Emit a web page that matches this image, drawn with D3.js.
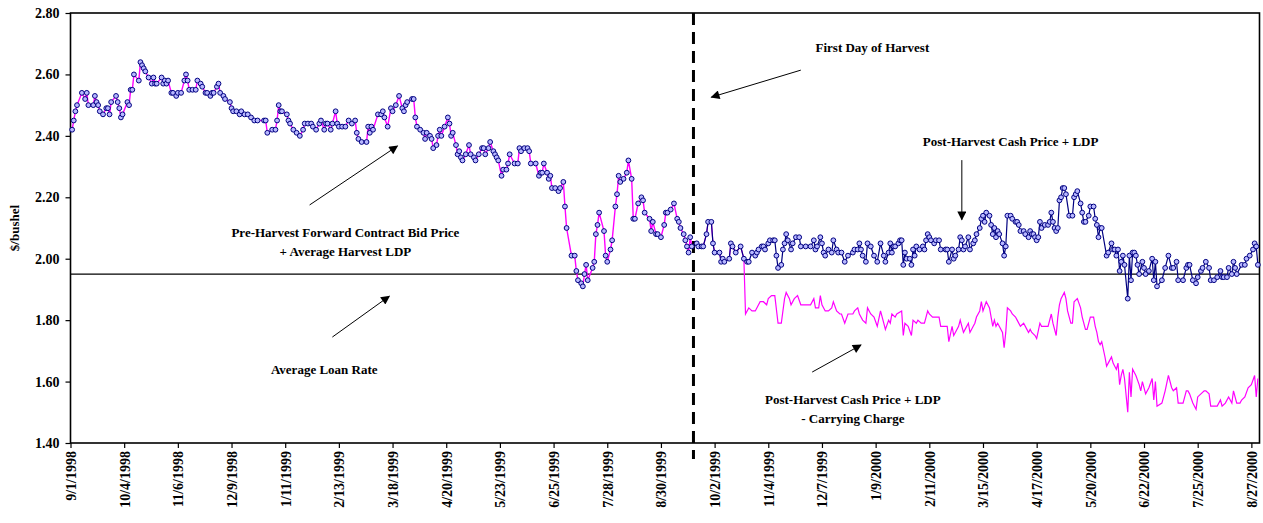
<!DOCTYPE html>
<html><head><meta charset="utf-8">
<script src="https://cdn.jsdelivr.net/npm/d3@7"></script>
<style>
html,body{margin:0;padding:0;background:#fff;}
svg{display:block;font-family:"Liberation Serif","Times New Roman",serif;font-weight:bold;}
</style></head>
<body><svg id="chart" width="1263" height="523"></svg>
<script>
// ---- DATA: [days since 9/1/1998, $/bushel] ----
const startDate = "1998-09-01";
const endDay = 731;
const harvestDay = 383;      // first day of harvest
const avgLoanRate = 1.95;

const tickLabels = ["9/1/1998","10/4/1998","11/6/1998","12/9/1998","1/11/1999","2/13/1999","3/18/1999","4/20/1999","5/23/1999","6/25/1999","7/28/1999","8/30/1999","10/2/1999","11/4/1999","12/7/1999","1/9/2000","2/11/2000","3/15/2000","4/17/2000","5/20/2000","6/22/2000","7/25/2000","8/27/2000"];
const yTicks = [1.40,1.60,1.80,2.00,2.20,2.40,2.60,2.80];

const preHarvest = [[1,2.42],[2,2.45],[3,2.48],[4,2.50],[7,2.54],[9,2.52],[10,2.54],[11,2.50],[14,2.50],[15,2.53],[16,2.51],[17,2.50],[18,2.48],[20,2.47],[22,2.49],[23,2.49],[24,2.47],[25,2.51],[28,2.53],[29,2.51],[30,2.49],[31,2.46],[32,2.47],[35,2.51],[36,2.50],[37,2.55],[38,2.55],[39,2.60],[42,2.58],[43,2.64],[44,2.63],[45,2.62],[46,2.61],[48,2.59],[50,2.57],[51,2.59],[52,2.57],[53,2.57],[56,2.59],[57,2.57],[58,2.58],[59,2.57],[60,2.58],[62,2.54],[63,2.54],[65,2.53],[66,2.54],[68,2.54],[70,2.58],
[71,2.60],[72,2.58],[73,2.55],[75,2.55],[77,2.55],[78,2.58],[80,2.57],[81,2.56],[83,2.54],[84,2.54],[86,2.53],[87,2.54],[88,2.54],[90,2.56],[91,2.57],[92,2.54],[94,2.53],[95,2.52],[98,2.51],[99,2.49],[100,2.48],[102,2.48],[104,2.47],[105,2.48],[107,2.47],[109,2.47],[111,2.46],[113,2.45],[115,2.45],[119,2.45],[120,2.45],[121,2.41],[124,2.42],[126,2.42],[127,2.45],[128,2.50],[129,2.48],[130,2.48],[133,2.47],[134,2.45],[135,2.44],[137,2.42],[139,2.41],[141,2.40],
[143,2.42],[144,2.44],[146,2.44],[148,2.44],[149,2.43],[151,2.42],[153,2.44],[154,2.45],[156,2.42],[157,2.44],[158,2.44],[160,2.42],[161,2.44],[163,2.48],[164,2.44],[165,2.43],[167,2.43],[169,2.43],[171,2.45],[173,2.44],[175,2.45],[176,2.41],[177,2.39],[179,2.38],[182,2.38],[183,2.43],[184,2.41],[185,2.43],[186,2.42],[189,2.47],[191,2.47],[192,2.48],[193,2.46],[195,2.43],[197,2.49],[198,2.48],[200,2.50],[202,2.53],[204,2.49],[205,2.48],[206,2.50],[207,2.51],[210,2.52],[211,2.52],[212,2.46],[213,2.43],[215,2.42],
[217,2.41],[218,2.39],[219,2.41],[221,2.40],[222,2.39],[223,2.36],[225,2.37],[226,2.40],[227,2.42],[228,2.40],[230,2.43],[232,2.46],[233,2.44],[234,2.40],[235,2.41],[237,2.37],[238,2.34],[239,2.35],[240,2.33],[241,2.32],[243,2.34],[245,2.37],[246,2.34],[248,2.33],[249,2.32],[251,2.34],[253,2.36],[254,2.36],[255,2.34],[257,2.36],[258,2.38],[260,2.35],[261,2.34],[262,2.33],[263,2.32],[265,2.27],[266,2.29],[268,2.29],[269,2.31],[270,2.34],[273,2.31],[275,2.31],[276,2.36],[277,2.35],[279,2.36],[281,2.36],[282,2.35],[283,2.31],
[286,2.31],[288,2.27],[289,2.28],[290,2.28],[291,2.31],[293,2.28],[294,2.26],[295,2.27],[296,2.23],[298,2.23],[300,2.22],[301,2.23],[303,2.25],[304,2.17],[305,2.10],[308,2.01],[310,2.01],[311,1.96],[312,1.93],[314,1.92],[315,1.91],[316,1.95],[317,1.98],[318,1.93],[321,1.97],[322,1.99],[323,2.08],[324,2.11],[325,2.15],[328,2.09],[329,2.01],[330,1.99],[332,2.03],[333,2.06],[335,2.17],[336,2.21],[337,2.27],[338,2.25],[340,2.26],[342,2.28],[343,2.32],[345,2.26],[346,2.13],[347,2.13],[349,2.18],[351,2.20],[352,2.19],[353,2.15],
[356,2.13],[357,2.09],[358,2.12],[360,2.08],[361,2.08],[363,2.07],[365,2.11],[366,2.15],[367,2.15],[369,2.16],[371,2.18],[373,2.13],[374,2.12],[375,2.10],[377,2.08],[378,2.06],[379,2.04],[380,2.02],[381,2.07],[382,2.04]];

const postHarvest = [[385,2.05],[386,2.04],[388,2.04],[389,2.04],[391,2.08],[392,2.12],[394,2.12],[395,2.05],[396,2.02],[399,2.02],[400,1.99],[401,2.00],[402,1.99],[405,2.00],[406,2.05],[407,2.04],[409,2.02],[412,2.04],[414,2.00],[416,1.99],
[417,1.99],[419,2.02],[421,2.01],[422,2.02],[423,2.03],[425,2.04],[426,2.04],[427,2.03],[429,2.05],[430,2.06],[432,2.06],[433,2.06],[434,2.01],[435,1.97],[437,1.98],[438,2.03],[439,2.05],[440,2.08],[441,2.06],[443,2.03],
[444,2.05],[446,2.07],[448,2.07],[449,2.04],[452,2.04],[455,2.04],[457,2.06],[458,2.03],[459,2.04],[461,2.07],[462,2.05],[463,2.02],[464,2.01],[466,2.03],[468,2.02],[469,2.06],[471,2.03],[472,2.02],[474,2.02],[476,1.99],
[478,2.01],[481,2.02],[482,2.03],[484,2.03],[485,2.05],[486,2.03],[487,2.01],[489,1.99],[490,2.05],[492,2.04],[494,2.01],[496,1.99],[498,2.05],[500,2.01],[501,1.99],[503,2.02],[504,2.05],[505,2.02],[506,2.04],[507,2.04],
[509,2.05],[510,2.06],[511,2.06],[512,1.98],[513,2.02],[514,2.00],[516,2.00],[517,1.98],[518,2.03],[519,2.01],[520,2.04],[522,2.03],[524,2.04],[525,2.03],[526,2.06],[527,2.08],[528,2.07],[529,2.06],[531,2.05],[532,2.06],
[534,2.06],[535,2.03],[538,2.03],[539,2.03],[540,1.99],[542,2.03],[543,2.00],[544,2.01],[546,2.03],[547,2.07],[548,2.06],[549,2.03],[550,2.04],[552,2.07],[553,2.03],[555,2.05],[556,2.06],[557,2.08],[559,2.10],[560,2.13],
[561,2.14],[562,2.12],[563,2.15],[565,2.14],[566,2.11],[567,2.08],[568,2.10],[569,2.07],[570,2.09],[571,2.08],[573,2.05],[574,2.01],[575,2.04],[576,2.14],[578,2.14],[579,2.13],[581,2.12],[582,2.12],[583,2.11],[584,2.09],
[586,2.09],[587,2.08],[589,2.07],[590,2.09],[591,2.08],[592,2.08],[593,2.07],[594,2.06],[595,2.07],[596,2.12],[597,2.10],[599,2.11],[601,2.11],[602,2.12],[603,2.15],[604,2.12],[605,2.10],[606,2.09],[607,2.10],[608,2.19],
[609,2.20],[610,2.23],[611,2.23],[612,2.21],[614,2.14],[616,2.14],[617,2.20],[618,2.21],[619,2.22],[621,2.18],[622,2.15],[623,2.12],[624,2.12],[626,2.14],[627,2.17],[629,2.17],[630,2.13],[631,2.11],[632,2.07],[633,2.10],
[634,2.10],[637,2.01],[638,2.02],[640,2.05],[641,2.03],[642,2.03],[643,2.01],[644,2.03],[645,1.96],[646,1.99],[647,2.01],[648,1.98],[650,1.87],[651,2.01],[652,1.93],[653,2.02],[654,2.02],[655,2.01],[656,1.98],[657,1.95],
[659,1.99],[660,1.97],[661,1.95],[663,1.96],[665,2.00],[666,1.93],[667,1.99],[668,1.91],[671,1.93],[673,1.97],[675,2.01],[677,1.97],[678,1.97],[680,1.99],[681,1.93],[684,1.93],[686,1.97],[687,1.98],[688,1.98],[690,1.93],
[692,1.92],[693,1.94],[695,1.96],[696,1.97],[698,1.99],[700,1.97],[701,1.93],[703,1.93],[705,1.94],[707,1.96],[708,1.94],[709,1.94],[711,1.94],[712,1.97],[714,1.95],[715,1.99],[716,1.97],[717,1.95],[720,1.98],[722,1.98],
[723,2.00],[725,2.01],[727,2.03],[728,2.05],[729,2.04],[730,1.98]];

const postHarvestCarry = [[385,2.05],[386,2.04],[388,2.04],[389,2.04],[391,2.08],[392,2.12],[394,2.12],[395,2.05],[396,2.02],[399,2.02],[400,1.99],[401,2.00],[402,1.99],[405,2.00],[406,2.05],[407,2.04],[409,2.02],[412,2.04],[414,2.00],
[415,1.82],[417,1.84],[419,1.83],[421,1.83],[423,1.85],[424,1.86],[426,1.86],[428,1.85],[429,1.87],[431,1.88],[433,1.88],[435,1.79],[437,1.79],[439,1.87],[440,1.89],[442,1.87],[443,1.85],[445,1.87],[447,1.88],[449,1.85],
[452,1.85],[455,1.85],[457,1.87],[458,1.84],[460,1.84],[461,1.88],[462,1.85],[464,1.83],[466,1.83],[468,1.84],[469,1.86],[471,1.83],[473,1.82],[474,1.82],[476,1.79],[478,1.82],[481,1.82],[482,1.83],[484,1.84],[485,1.82],
[487,1.80],[489,1.79],[490,1.84],[492,1.82],[494,1.81],[496,1.78],[498,1.83],[500,1.79],[501,1.77],[503,1.80],[504,1.79],[505,1.82],[507,1.81],[508,1.82],[511,1.83],[512,1.75],[513,1.79],[515,1.78],[517,1.75],[518,1.80],
[520,1.79],[521,1.80],[523,1.79],[525,1.79],[526,1.81],[527,1.83],[528,1.82],[530,1.81],[532,1.81],[534,1.81],[535,1.78],[538,1.78],[539,1.78],[540,1.73],[542,1.78],[543,1.75],[544,1.76],[546,1.78],[547,1.80],[548,1.78],
[549,1.76],[550,1.77],[552,1.79],[553,1.76],[555,1.78],[556,1.79],[557,1.81],[559,1.83],[560,1.86],[561,1.83],[563,1.86],[565,1.84],[566,1.81],[567,1.78],[568,1.80],[569,1.78],[570,1.79],[571,1.78],[573,1.76],[574,1.71],
[575,1.76],[576,1.84],[578,1.83],[579,1.82],[581,1.81],[582,1.80],[584,1.78],[586,1.79],[588,1.77],[589,1.76],[590,1.77],[591,1.76],[593,1.75],[594,1.74],[596,1.79],[597,1.78],[599,1.78],[601,1.78],[603,1.82],[604,1.79],
[606,1.75],[607,1.81],[608,1.85],[609,1.87],[611,1.89],[612,1.87],[613,1.83],[615,1.79],[616,1.79],[617,1.86],[619,1.87],[621,1.84],[622,1.81],[624,1.77],[625,1.77],[627,1.81],[629,1.81],[630,1.78],[631,1.76],[632,1.73],
[633,1.72],[634,1.73],[636,1.68],[637,1.65],[638,1.66],[640,1.68],[641,1.66],[642,1.65],[643,1.64],[644,1.66],[645,1.59],[646,1.62],[647,1.64],[648,1.61],[650,1.50],[651,1.63],[652,1.55],[653,1.64],[655,1.62],[657,1.59],
[658,1.57],[659,1.60],[661,1.56],[663,1.58],[665,1.61],[666,1.54],[667,1.60],[668,1.52],[671,1.53],[673,1.57],[675,1.62],[677,1.58],[678,1.57],[680,1.58],[681,1.53],[684,1.53],[686,1.57],[687,1.57],[688,1.56],[690,1.53],
[692,1.51],[693,1.55],[695,1.56],[697,1.57],[698,1.57],[700,1.56],[701,1.52],[703,1.52],[705,1.52],[707,1.54],[708,1.52],[710,1.53],[712,1.55],[714,1.53],[715,1.57],[717,1.53],[719,1.53],[720,1.54],[722,1.55],[724,1.58],
[726,1.59],[728,1.62],[729,1.55],[730,1.61]];

// annotation texts: lines, anchor [day, value]
const notes = [
  {lines:["First Day of Harvest"], at:[493,2.672]},
  {lines:["Post-Harvest Cash Price + LDP"], at:[578,2.367]},
  {lines:["Pre-Harvest Forward Contract Bid Price","+ Average Harvest LDP"], at:[169,2.072]},
  {lines:["Average Loan Rate"], at:[156,1.624]},
  {lines:["Post-Harvest Cash Price + LDP","- Carrying Charge"], at:[481,1.527]}
];
const arrows = [
  {from:[449,2.614], to:[394,2.526]},
  {from:[548,2.321], to:[548,2.127]},
  {from:[147,2.175], to:[201,2.367]},
  {from:[161,1.745], to:[196,1.878]},
  {from:[456,1.631], to:[486,1.719]}
];

// ---- CHART ----
const svg = d3.select("#chart");
const start = d3.timeParse("%Y-%m-%d")(startDate);
const toDate = d => d3.timeDay.offset(start, d);
const parseLbl = d3.timeParse("%-m/%-d/%Y");
const L = 70.5, R = 1259.5, T = 13, B = 443;

const x = d3.scaleTime().domain([start, toDate(endDay)]).range([L, R]);
const y = d3.scaleLinear().domain([1.4, 2.8]).range([B, T]);

const navy = "#000080", magenta = "#ff00ff";

// y axis
const gy = svg.append("g").attr("transform", `translate(${L},0)`)
  .call(d3.axisLeft(y).tickValues(yTicks).tickFormat(d3.format(".2f")).tickSize(5).tickPadding(6).tickSizeOuter(0));
gy.select(".domain").remove();
gy.selectAll("line").attr("stroke","#000").attr("stroke-width",1.2);
gy.selectAll("text").attr("font-size",14).attr("font-family","Liberation Serif, Times New Roman, serif").attr("font-weight","bold").attr("fill","#000");

// x axis
const gx = svg.append("g").attr("transform", `translate(0,${B})`)
  .call(d3.axisBottom(x).tickValues(tickLabels.map(parseLbl)).tickFormat((d,i)=>tickLabels[i]).tickSize(5).tickSizeOuter(0));
gx.select(".domain").remove();
gx.selectAll("line").attr("stroke","#000").attr("stroke-width",1.2);
gx.selectAll("text")
  .attr("font-size",14).attr("font-family","Liberation Serif, Times New Roman, serif").attr("font-weight","bold").attr("fill","#000")
  .attr("transform","rotate(-90)").attr("text-anchor","end")
  .attr("x",-8).attr("y",0).attr("dy","0.35em");

// plot frame
svg.append("rect").attr("x",L).attr("y",T).attr("width",R-L).attr("height",B-T)
  .attr("fill","none").attr("stroke","#000").attr("stroke-width",1.6);

// y title
svg.append("text").attr("transform",`translate(19,${(T+B)/2}) rotate(-90)`)
  .attr("text-anchor","middle").attr("font-size",13).text("$/bushel");

// loan rate line
svg.append("line").attr("x1",L).attr("x2",R).attr("y1",y(avgLoanRate)).attr("y2",y(avgLoanRate))
  .attr("stroke","#000").attr("stroke-width",1.2);

// harvest line
svg.append("line").attr("x1",x(toDate(harvestDay))).attr("x2",x(toDate(harvestDay)))
  .attr("y1",T).attr("y2",B+16).attr("stroke","#000").attr("stroke-width",3).attr("stroke-dasharray","12,7");

const line = d3.line().x(d=>x(toDate(d[0]))).y(d=>y(d[1]));

svg.append("path").datum(postHarvestCarry).attr("d",line).attr("fill","none").attr("stroke",magenta).attr("stroke-width",1.2);
svg.append("path").datum(postHarvest).attr("d",line).attr("fill","none").attr("stroke",navy).attr("stroke-width",1.2);
svg.append("path").datum(preHarvest).attr("d",line).attr("fill","none").attr("stroke",magenta).attr("stroke-width",1.4);

function markers(data){
  svg.append("g").selectAll("circle").data(data).join("circle")
    .attr("cx",d=>x(toDate(d[0]))).attr("cy",d=>y(d[1])).attr("r",2.4)
    .attr("fill","#b8b8ff").attr("stroke",navy).attr("stroke-width",1);
}
markers(preHarvest);
markers(postHarvest);

// annotations
svg.append("defs").append("marker").attr("id","ah").attr("viewBox","0 0 10 10")
  .attr("refX",9).attr("refY",5).attr("markerWidth",11).attr("markerHeight",9)
  .attr("markerUnits","userSpaceOnUse").attr("orient","auto")
  .append("path").attr("d","M0,0 L10,5 L0,10 z").attr("fill","#000");

arrows.forEach(a=>{
  svg.append("line")
    .attr("x1",x(toDate(a.from[0]))).attr("y1",y(a.from[1]))
    .attr("x2",x(toDate(a.to[0]))).attr("y2",y(a.to[1]))
    .attr("stroke","#000").attr("stroke-width",1).attr("marker-end","url(#ah)");
});
notes.forEach(n=>{
  const t = svg.append("text").attr("text-anchor","middle").attr("font-size",13)
    .attr("x",x(toDate(n.at[0]))).attr("y",y(n.at[1]));
  n.lines.forEach((s,i)=>t.append("tspan").attr("x",x(toDate(n.at[0]))).attr("dy",i?19:0).text(s));
});
</script></body></html>
